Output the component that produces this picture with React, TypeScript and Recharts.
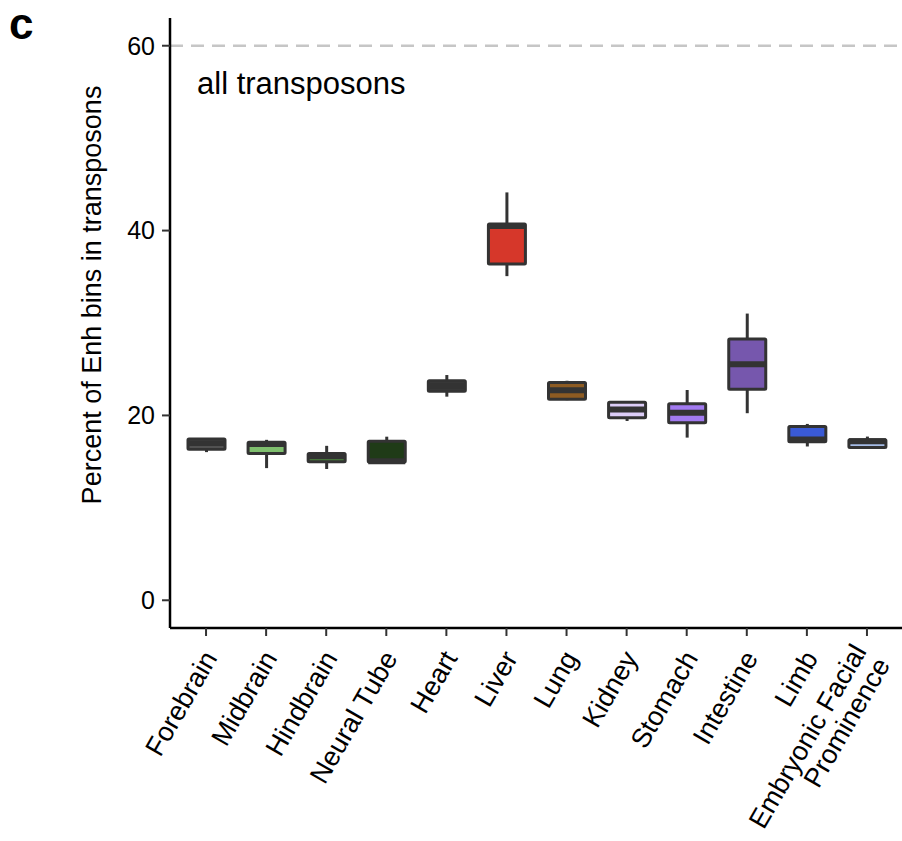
import React from 'react';
import { ComposedChart, Bar, XAxis, YAxis, ReferenceLine } from 'recharts';

const tissues = [
  'Forebrain',
  'Midbrain',
  'Hindbrain',
  'Neural Tube',
  'Heart',
  'Liver',
  'Lung',
  'Kidney',
  'Stomach',
  'Intestine',
  'Limb',
  'Embryonic Facial\nProminence',
];

// five-number summaries
const lowWhisker = [16.03, 14.3, 14.2, 14.95, 22.03, 35.07, 21.65, 19.4, 17.6, 20.24, 16.64, 16.52];
const lowerQuartile = [16.33, 15.87, 15.0, 14.95, 22.62, 36.39, 21.76, 19.75, 19.21, 22.84, 17.16, 16.52];
const medians = [16.98, 16.9, 15.58, 15.05, 23.18, 40.49, 22.72, 20.63, 20.29, 25.55, 17.39, 17.2];
const upperQuartile = [17.45, 17.09, 15.87, 17.2, 23.74, 40.7, 23.56, 21.43, 21.26, 28.27, 18.81, 17.38];
const highWhisker = [17.45, 17.36, 16.71, 17.7, 24.37, 44.13, 23.75, 21.43, 22.75, 31.02, 19.08, 17.71];

const fills = [
  '#5c5c5c', '#7fbf6e', '#4f8a3f', '#1f3b17', '#3a3a3a', '#d6372a',
  '#8d5b22', '#dccdf7', '#a27af0', '#7657ad', '#3a5ad6', '#a6bce6',
];

const yTicks = [0, 20, 40, 60];
const FONT = '"Liberation Sans", Arial, Helvetica, sans-serif';
const INK = '#333333';

const data = tissues.map((name, i) => ({
  name,
  range: [lowWhisker[i], highWhisker[i]],
  q1: lowerQuartile[i],
  med: medians[i],
  q3: upperQuartile[i],
  fill: fills[i],
}));

const BoxShape = (props: any) => {
  const { x, y, width, height, payload } = props;
  const [lo, hi] = payload.range;
  const top = Math.min(y, y + height);
  const bottom = Math.max(y, y + height);
  // map a value into pixels using the bar's own (scaled) extent
  const py = (v: number) => (hi === lo ? top : top + ((hi - v) / (hi - lo)) * (bottom - top));
  const cx = x + width / 2;
  const yq3 = py(payload.q3);
  const yq1 = py(payload.q1);
  const ymed = py(payload.med);
  return (
    <g>
      <line x1={cx} x2={cx} y1={top} y2={yq3} stroke={INK} strokeWidth={3} />
      <line x1={cx} x2={cx} y1={yq1} y2={bottom} stroke={INK} strokeWidth={3} />
      <rect
        x={x}
        y={yq3}
        width={width}
        height={Math.max(yq1 - yq3, 0.5)}
        fill={payload.fill}
        stroke={INK}
        strokeWidth={3}
        rx={1}
      />
      <line x1={x} x2={x + width} y1={ymed} y2={ymed} stroke={INK} strokeWidth={6} />
    </g>
  );
};

const XTick = (props: any) => {
  const { x, y, payload } = props;
  const lines = String(payload.value).split('\n');
  const shift = -(lines.length - 1) / 2;
  return (
    <g transform={`translate(${x + 12},${y + 20})`}>
      <text transform="rotate(-60)" textAnchor="end" fontSize={27} fontFamily={FONT} fill="#000">
        {lines.map((line, i) => (
          <tspan key={i} x={0} dy={i === 0 ? `${shift}em` : '1.0em'}>
            {line}
          </tspan>
        ))}
      </text>
    </g>
  );
};

const YTitle = () => (
  <text
    x={101}
    y={295}
    transform="rotate(-90 101 295)"
    textAnchor="middle"
    fontSize={27}
    fontFamily={FONT}
    fill="#000"
  >
    Percent of Enh bins in transposons
  </text>
);

export default function App() {
  return (
    <div
      style={{
        position: 'absolute',
        left: 0,
        top: 0,
        width: 902,
        height: 841,
        overflow: 'hidden',
        background: '#fff',
        fontFamily: FONT,
      }}
    >
      <div style={{ position: 'absolute', left: 9, top: 2, fontSize: 44, fontWeight: 900, lineHeight: 1 }}>c</div>
      <div style={{ position: 'absolute', left: 197, top: 65, fontSize: 31, lineHeight: 1.2 }}>all transposons</div>
      <ComposedChart
        width={905}
        height={841}
        data={data}
        margin={{ top: 18, right: 2, left: 0, bottom: 0 }}
      >
        <ReferenceLine y={60} stroke="#c6c6c6" strokeWidth={2.5} strokeDasharray="13 8" />
        <XAxis
          dataKey="name"
          type="category"
          interval={0}
          height={213}
          padding={{ left: 6, right: 6 }}
          axisLine={{ stroke: '#000', strokeWidth: 2.5 }}
          tickLine={{ stroke: INK, strokeWidth: 2 }}
          tickSize={8}
          tick={<XTick />}
        />
        <YAxis
          type="number"
          domain={[-3, 63]}
          ticks={yTicks}
          width={170}
          axisLine={{ stroke: '#000', strokeWidth: 2.5 }}
          tickLine={{ stroke: INK, strokeWidth: 2 }}
          tickSize={8}
          tickMargin={7}
          tick={{ fontSize: 25, fill: '#000', fontFamily: FONT }}
          label={<YTitle />}
        />
        <Bar dataKey="range" barSize={37} shape={<BoxShape />} isAnimationActive={false} />
      </ComposedChart>
    </div>
  );
}
